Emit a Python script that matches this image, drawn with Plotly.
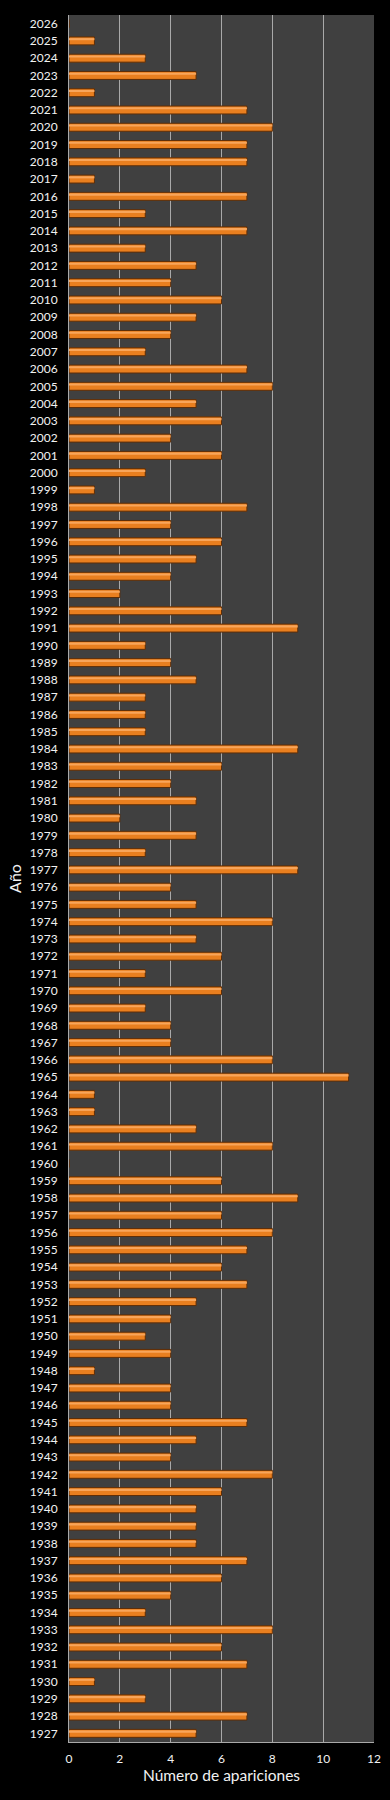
import plotly.graph_objects as go

years = [str(y) for y in range(1927, 2027)]
# values for 1927..2026 (ascending)
apariciones = [
    5, 7, 3, 1, 7, 6, 8, 3, 4, 6,      # 1927-1936
    7, 5, 5, 5, 6, 8, 4, 5, 7, 4,      # 1937-1946
    4, 1, 4, 3, 4, 5, 7, 6, 7, 8,      # 1947-1956
    6, 9, 6, 0, 8, 5, 1, 1, 11, 8,     # 1957-1966
    4, 4, 3, 6, 3, 6, 5, 8, 5, 4,      # 1967-1976
    9, 3, 5, 2, 5, 4, 6, 9, 3, 3,      # 1977-1986
    3, 5, 4, 3, 9, 6, 2, 4, 5, 6,      # 1987-1996
    4, 7, 1, 3, 6, 4, 6, 5, 8, 7,      # 1997-2006
    3, 4, 5, 6, 4, 5, 3, 7, 3, 7,      # 2007-2016
    1, 7, 7, 8, 7, 1, 5, 3, 1, 0,      # 2017-2026
]
x_ticks = [0, 2, 4, 6, 8, 10, 12]

fig = go.Figure()
fig.add_trace(go.Bar(
    y=years, x=apariciones, orientation="h",
    width=0.46,
    marker=dict(color="#e97f1f", line=dict(color="#5e2d06", width=1)),
    hoverinfo="x+y", showlegend=False,
))
fig.add_trace(go.Bar(
    y=years, x=apariciones, orientation="h",
    width=0.12, offset=0.04,
    marker=dict(color="#f8a55a", line=dict(width=0)),
    hoverinfo="skip", showlegend=False,
))

fig.update_layout(
    width=390, height=1800,
    margin=dict(l=69, r=16, t=15, b=58),
    paper_bgcolor="#000000",
    plot_bgcolor="#404040",
    barmode="overlay",
    font=dict(family="Lato, 'Open Sans', sans-serif", color="#f2f2f2"),
    xaxis=dict(
        range=[0, 12], tickvals=x_ticks, ticktext=[str(v) for v in x_ticks],
        showgrid=True, gridcolor="#a9a9a9", gridwidth=1,
        zeroline=False, showline=True, linecolor="#a9a9a9", linewidth=1,
        ticks="", ticklabelstandoff=6, tickfont=dict(size=12, color="#f2f2f2"),
        title=dict(text="Número de apariciones", font=dict(size=15.5, color="#f2f2f2"), standoff=4),
        automargin=False,
        fixedrange=True,
    ),
    yaxis=dict(
        type="category", categoryorder="array", categoryarray=years,
        tickmode="array", tickvals=years,
        showgrid=False, zeroline=False,
        showline=True, linecolor="#a9a9a9", linewidth=1,
        ticks="", ticklabelstandoff=8,
        tickfont=dict(size=12, color="#f2f2f2"),
        title=dict(text="Año", font=dict(size=16, color="#f2f2f2"), standoff=4),
        range=[-0.5, 99.5],
        automargin=False,
        fixedrange=True,
    ),
)

fig.write_html(
    "out.html",
    config={"displayModeBar": False},
    post_script="document.body.style.margin='0';document.body.style.background='#000';",
)
